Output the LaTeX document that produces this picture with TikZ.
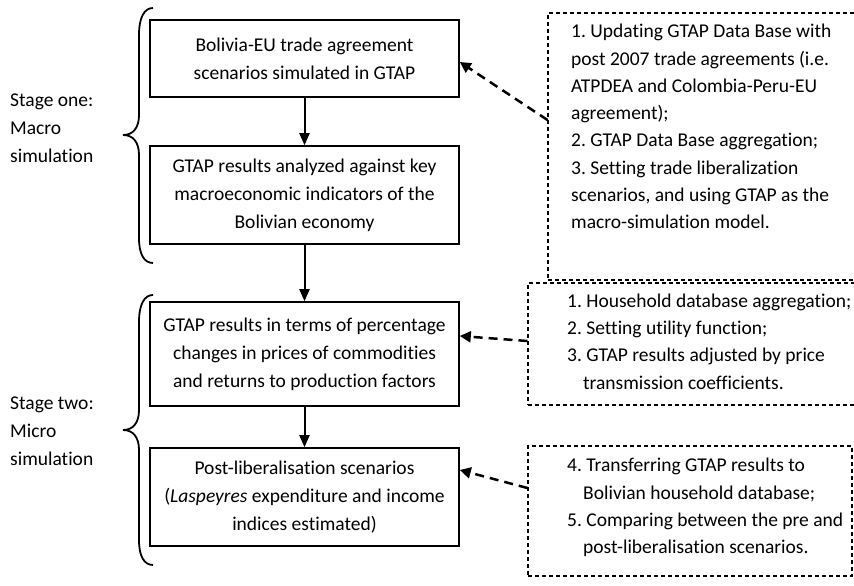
\documentclass[tikz,border=0pt]{standalone}
\usepackage{fontspec}
\setmainfont{Carlito}[Ligatures=NoCommon]
\usetikzlibrary{arrows.meta}
\frenchspacing
\begin{document}
\begin{tikzpicture}[x=1pt,y=-1pt,
  every node/.style={font=\fontsize{19.5}{28}\selectfont},
  solidbox/.style={draw, line width=1.6pt, minimum width=309pt, align=center, inner sep=0pt},
  dbox/.style={draw, dash pattern=on 4pt off 3pt, line width=1.1pt, inner sep=0pt},
  listtext/.style={align=left, inner sep=0pt, anchor=north west, font=\fontsize{19.5}{27.3}\selectfont},
  stagetext/.style={align=left, inner sep=0pt, anchor=west},
  flow/.style={line width=2pt, -{Triangle[width=10pt,length=12pt]}},
  dflow/.style={line width=2.5pt, dash pattern=on 9pt off 6pt, -{Triangle[width=11pt,length=11pt]}},
  bracestyle/.style={line width=1.8pt}
]
\useasboundingbox (0,0) rectangle (854,586);

% main flow boxes
\node[solidbox, minimum height=77pt] (b1) at (304.5,58.5) {Bolivia-EU trade agreement\\scenarios simulated in GTAP};
\node[solidbox, minimum height=98pt] (b2) at (304.5,195) {GTAP results analyzed against key\\macroeconomic indicators of the\\Bolivian economy};
\node[solidbox, minimum height=104pt] (b3) at (304.5,354) {GTAP results in terms of percentage\\changes in prices of commodities\\and returns to production factors};
\node[solidbox, minimum height=98pt] (b4) at (304.5,497) {Post-liberalisation scenarios\\(\textit{Laspeyres} expenditure and income\\indices estimated)};

\draw[flow] (b1) -- (b2);
\draw[flow] (b2) -- (b3);
\draw[flow] (b3) -- (b4);

% dashed boxes (the first two run off the right edge of the picture)
\node[dbox, minimum width=310pt, minimum height=267pt] (d1) at (703,146.5) {};
\node[dbox, minimum width=330pt, minimum height=122pt] (d2) at (693,344) {};
\node[dbox, minimum width=324pt, minimum height=130pt] (d3) at (690,511) {};

\node[listtext] (t1) at (571,24) {1. Updating GTAP Data Base with\\post 2007 trade agreements (i.e.\\ATPDEA and Colombia-Peru-EU\\agreement);\\2. GTAP Data Base aggregation;\\3. Setting trade liberalization\\scenarios, and using GTAP as the\\macro-simulation model.};
\node[listtext] (t2) at (567,293.5) {1. Household database aggregation;\\2. Setting utility function;\\3. GTAP results adjusted by price\\\hspace*{16pt}transmission coefficients.};
\node[listtext] (t3) at (567,458) {4. Transferring GTAP results to\\\hspace*{16pt}Bolivian household database;\\5. Comparing between the pre and\\\hspace*{16pt}post-liberalisation scenarios.};

% dashed connectors
\coordinate (a1s) at ([yshift=26.5pt]d1.west);
\coordinate (a1e) at ([yshift=-3.5pt]b1.east);
\coordinate (a2s) at ([yshift=3pt]d2.west);
\coordinate (a2e) at ([yshift=18pt]b3.east);
\coordinate (a3s) at ([yshift=23pt]d3.west);
\coordinate (a3e) at ([yshift=27pt]b4.east);
\draw[dflow] (a1s) -- (a1e);
\draw[dflow] (a2s) -- (a2e);
\draw[dflow] (a3s) -- (a3e);

% stage labels
\node[stagetext] (stage1) at (10,128.5) {Stage one:\\Macro\\simulation};
\node[stagetext] (stage2) at (10,431) {Stage two:\\Micro\\simulation};

% braces
\draw[bracestyle] (153,8) .. controls (144,8) and (139,18) .. (139,35) -- (139,115)
  .. controls (139,128) and (133,135) .. (123,135)
  .. controls (133,135) and (139,142) .. (139,155) -- (139,238)
  .. controls (139,254) and (144,263) .. (153,263);
\draw[bracestyle] (153,295) .. controls (144,295) and (139,305) .. (139,322) -- (139,410)
  .. controls (139,423) and (133,430) .. (123,430)
  .. controls (133,430) and (139,437) .. (139,450) -- (139,540)
  .. controls (139,556) and (144,565) .. (153,565);
\end{tikzpicture}
\end{document}
